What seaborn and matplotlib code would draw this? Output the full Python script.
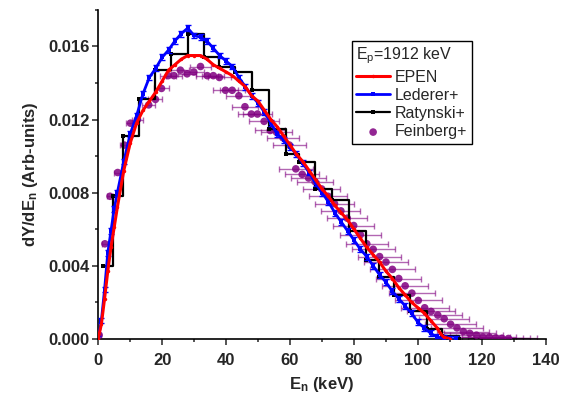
import numpy as np
import matplotlib
matplotlib.use('Agg')
import matplotlib.pyplot as plt
from matplotlib.ticker import MultipleLocator, FormatStrFormatter
import seaborn as sns

# EPEN calculation (red)
epen_x = [0, 1, 2, 3, 4, 5, 6, 8, 10, 12, 14, 16, 18, 20, 22, 24, 26, 28, 30, 32, 34, 36,
          38, 40, 42, 44, 46, 48, 50, 52, 54, 56, 58, 60, 62, 64, 66, 68, 70, 72, 74, 76,
          78, 80, 82, 84, 86, 88, 90, 92, 94, 96, 98, 100, 102, 104, 106, 107, 108, 110]
epen_y = [0.0, 0.0008, 0.0022, 0.0037, 0.0050, 0.0061, 0.0072, 0.0092, 0.0107, 0.0118,
          0.0125, 0.0130, 0.0135, 0.0141, 0.0147, 0.0150, 0.0153, 0.0155, 0.0155, 0.0155,
          0.0153, 0.0150, 0.0148, 0.0146, 0.0144, 0.0141, 0.0138, 0.0133, 0.0130, 0.0125,
          0.0120, 0.0116, 0.0111, 0.0106, 0.0101, 0.0097, 0.0092, 0.0087, 0.0082, 0.0078,
          0.0073, 0.0069, 0.0065, 0.0060, 0.0055, 0.0050, 0.0046, 0.0042, 0.0037, 0.0033,
          0.0028, 0.0024, 0.0020, 0.0017, 0.0014, 0.0010, 0.0006, 0.0003, 0.0001, 0.0]

# Lederer+ (blue)
led_x = [0, 1, 2, 3, 4, 5, 6, 8, 10, 12, 14, 16, 18, 20, 22, 24, 26, 28, 30, 32, 34, 36,
         38, 40, 42, 44, 46, 48, 50, 52, 54, 56, 58, 60, 62, 64, 66, 68, 70, 72, 74, 76,
         78, 80, 82, 84, 86, 88, 90, 92, 94, 96, 98, 100, 102, 104, 106, 108, 110, 112]
led_y = [0.0, 0.0010, 0.0027, 0.0047, 0.0059, 0.0071, 0.0080, 0.0097, 0.0112, 0.0122,
         0.0134, 0.0143, 0.0148, 0.0154, 0.0158, 0.0163, 0.0167, 0.0170, 0.0166, 0.0165,
         0.0163, 0.0159, 0.0155, 0.0152, 0.0149, 0.0143, 0.0138, 0.0133, 0.0129, 0.0124,
         0.0118, 0.0112, 0.0109, 0.0105, 0.0101, 0.0096, 0.0091, 0.0085, 0.0080, 0.0075,
         0.0069, 0.0064, 0.0059, 0.0054, 0.0049, 0.0045, 0.0040, 0.0035, 0.0031, 0.0026,
         0.0022, 0.0018, 0.0014, 0.0009, 0.0006, 0.0003, 0.0001, 0.00003, 0.0, 0.0]

# Ratynski+ (black histogram): bin edges and bin values
rat_edges = [1.6, 4.7, 7.8, 12.9, 17.9, 22.9, 28.1, 33.0, 37.7, 42.9, 48.1, 53.3, 58.6,
             62.7, 67.9, 73.1, 78.3, 83.6, 87.7, 92.4, 97.6, 102.8, 107.5, 112.7]
rat_vals = [0.0040, 0.0078, 0.0111, 0.0131, 0.0147, 0.0156, 0.0167, 0.0154, 0.0149,
            0.0146, 0.0136, 0.0115, 0.0101, 0.0097, 0.0082, 0.0076, 0.0059, 0.0043,
            0.0034, 0.0024, 0.0015, 0.00055, 0.00018]

# Feinberg+ (purple points with horizontal error bars)
fein_x = [0.3, 2.1, 3.7, 6.1, 8.2, 10.1, 12.3, 15.8, 17.9, 19.8, 21.9, 23.7, 25.7, 27.8,
          29.9, 32.0, 34.1, 36.0, 37.9, 39.8, 41.9, 44.0, 45.9, 47.9, 49.8, 51.9, 53.8,
          55.8, 57.8, 59.8, 61.8, 63.8, 65.8, 67.8, 69.9, 71.9, 73.9, 75.9, 77.9, 79.9,
          82.0, 84.0, 86.0, 88.0, 90.0, 92.0, 94.0, 96.0, 98.1, 100.1, 102.1, 104.1,
          106.2, 108.2, 110.2, 112.2, 114.2, 116.2, 118.3, 120.3, 122.3, 124.3, 126.3, 128.3]
fein_y = [0.0002, 0.0052, 0.0078, 0.0091, 0.0106, 0.0118, 0.0120, 0.0128, 0.0131, 0.0137,
          0.0144, 0.0144, 0.0147, 0.0145, 0.0146, 0.0149, 0.0144, 0.0144, 0.0143, 0.0136,
          0.0136, 0.0133, 0.0127, 0.0123, 0.0123, 0.0119, 0.0114, 0.0113, 0.0110, 0.0106,
          0.0093, 0.0090, 0.0088, 0.0086, 0.0082, 0.0078, 0.0074, 0.0070, 0.0066, 0.0062,
          0.0057, 0.0052, 0.0049, 0.0045, 0.0042, 0.0038, 0.0033, 0.0029, 0.0025, 0.0021,
          0.0017, 0.0015, 0.0013, 0.0011, 0.0008, 0.0006, 0.0004, 0.0003, 0.0002, 0.0001,
          0.0001, 0.00005, 0.00003, 0.00002]
fein_xerr = [0.5, 1.0, 1.0, 1.2, 1.4, 1.5, 1.7, 2.0, 2.2, 2.3, 2.5, 2.6, 2.8, 2.9,
             3.1, 3.2, 3.4, 3.5, 3.6, 3.8, 3.9, 4.1, 4.2, 4.3, 4.5, 4.6, 4.7,
             4.9, 5.0, 5.1, 5.3, 5.4, 5.5, 5.6, 5.8, 5.9, 6.0, 6.1, 6.3, 6.4,
             6.5, 6.6, 6.7, 6.8, 6.9, 7.0, 7.1, 7.2, 7.3, 7.4, 7.5, 7.6,
             7.7, 7.8, 7.9, 8.0, 8.1, 8.2, 8.3, 8.4, 8.5, 8.6, 8.7, 8.8]

sns.set_style('ticks')
plt.rcParams['font.family'] = ['Liberation Sans', 'DejaVu Sans']
plt.rcParams['mathtext.fontset'] = 'custom'
plt.rcParams['mathtext.rm'] = 'Liberation Sans'
plt.rcParams['mathtext.bf'] = 'Liberation Sans:bold'
plt.rcParams['mathtext.it'] = 'Liberation Sans:italic'

fig = plt.figure(figsize=(5.61, 3.94), dpi=100)
ax = fig.add_axes([0.175, 0.14, 0.798, 0.835])

purple = '#800080'

# Feinberg error bars and points
ax.errorbar(fein_x, fein_y, xerr=fein_xerr, fmt='none', ecolor=purple, alpha=0.6,
            elinewidth=1, capsize=2.5, zorder=2)
sns.scatterplot(x=fein_x, y=fein_y, color=purple, s=30, edgecolor='none', alpha=0.85,
                ax=ax, zorder=3, label='Feinberg+')

# Ratynski step histogram
rat_x = rat_edges
rat_y = rat_vals + [0.0]
sns.lineplot(x=rat_x, y=rat_y, drawstyle='steps-post', color='black', linewidth=1.6,
             marker='s', markersize=2.5, markeredgewidth=0, ax=ax, zorder=4,
             label='Ratynski+', estimator=None, sort=False)

# Lederer errorbars + line
ax.errorbar(led_x, led_y, yerr=0.00016, fmt='none', ecolor='blue', elinewidth=1.2,
            capsize=2, zorder=5)
sns.lineplot(x=led_x, y=led_y, color='blue', linewidth=2, marker='s', markersize=2.5,
             markeredgewidth=0, ax=ax, zorder=5, label='Lederer+', estimator=None)

# EPEN
sns.lineplot(x=epen_x, y=epen_y, color='red', linewidth=2.2, marker='o', markersize=2.5,
             markeredgewidth=0, ax=ax, zorder=6, label='EPEN', estimator=None)

ax.set_xlim(0, 140)
ax.set_ylim(0, 0.018)
ax.xaxis.set_major_locator(MultipleLocator(20))
ax.xaxis.set_minor_locator(MultipleLocator(10))
ax.yaxis.set_major_locator(MultipleLocator(0.004))
ax.yaxis.set_minor_locator(MultipleLocator(0.002))
ax.yaxis.set_major_formatter(FormatStrFormatter('%.3f'))
ax.set_yticks([0, 0.004, 0.008, 0.012, 0.016])
ax.tick_params(which='major', direction='out', length=4, width=1.1, labelsize=12, pad=2)
ax.tick_params(axis='x', which='major', pad=6)
ax.tick_params(which='minor', direction='out', length=2.5, width=1.1)
for lab in ax.get_xticklabels() + ax.get_yticklabels():
    lab.set_fontweight('bold')

for side in ['top', 'right']:
    ax.spines[side].set_visible(False)
for side in ['left', 'bottom']:
    ax.spines[side].set_linewidth(1.2)
    ax.spines[side].set_color('black')

ax.set_xlabel(r'$\mathbf{E}_{\mathbf{n}}$ (keV)', fontsize=12, fontweight='bold', labelpad=5)
ax.set_ylabel(r'$\mathbf{dY/dE}_{\mathbf{n}}$ (Arb-units)', fontsize=12, fontweight='bold',
              labelpad=6)

handles, labels = ax.get_legend_handles_labels()
order = ['EPEN', 'Lederer+', 'Ratynski+', 'Feinberg+']
hmap = dict(zip(labels, handles))
leg = ax.legend([hmap[k] for k in order], order, title=r'E$_{\mathrm{p}}$=1912 keV',
                loc='upper left', bbox_to_anchor=(0.566, 0.905), fontsize=11.5,
                title_fontsize=11.5, frameon=True, fancybox=False, edgecolor='black',
                framealpha=1, handlelength=2.1, handletextpad=0.3, borderpad=0.3,
                labelspacing=0.2, borderaxespad=0)
leg._legend_box.align = 'left'
leg.get_frame().set_linewidth(1.0)

fig.savefig('out.png', dpi=100)
